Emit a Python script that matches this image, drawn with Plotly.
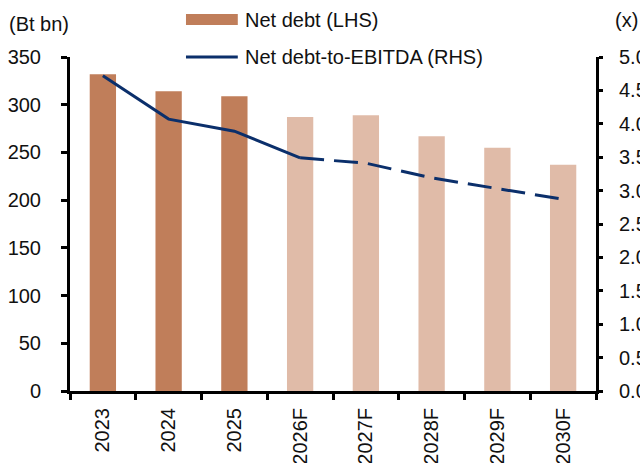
import plotly.graph_objects as go

categories = ["2023", "2024", "2025", "2026F", "2027F", "2028F", "2029F", "2030F"]
net_debt = [332, 314, 309, 287, 289, 267, 255, 237]
nd_ebitda = [4.72, 4.07, 3.89, 3.49, 3.41, 3.19, 3.03, 2.87]
is_forecast = [False, False, False, True, True, True, True, True]

ACT = "#c07e5a"
FC = "#e0bba8"
NAVY = "#0b2f6b"
FONT = "Liberation Sans, Arial, sans-serif"

bar_colors = [FC if f else ACT for f in is_forecast]
first_fc = is_forecast.index(True)

fig = go.Figure()
fig.add_trace(go.Bar(x=categories, y=net_debt, marker=dict(color=bar_colors, line=dict(width=0)),
                     showlegend=False, yaxis="y"))
fig.add_trace(go.Scatter(x=categories[:first_fc + 1], y=nd_ebitda[:first_fc + 1], mode="lines",
                         line=dict(color=NAVY, width=3), showlegend=False, yaxis="y2"))
fig.add_trace(go.Scatter(x=categories[first_fc:], y=nd_ebitda[first_fc:], mode="lines",
                         line=dict(color=NAVY, width=3, dash="24px,10px"), showlegend=False, yaxis="y2"))

fig.update_layout(
    width=640, height=463,
    margin=dict(l=70, r=44, t=57, b=72, autoexpand=False),
    paper_bgcolor="white", plot_bgcolor="white",
    font=dict(family=FONT, size=20, color="#111"),
    bargap=0.6,
    xaxis=dict(type="category", showline=True, linewidth=3, linecolor="black",
               ticks="outside", ticklen=6, tickwidth=3, tickcolor="black",
               tickson="boundaries", tickangle=-90, showgrid=False, zeroline=False,
               ticklabelstandoff=6),
    yaxis=dict(range=[0, 350], dtick=50, showline=True, linewidth=3, linecolor="black",
               ticks="outside", ticklen=6, tickwidth=3, tickcolor="black",
               showgrid=False, zeroline=False, ticklabelstandoff=16),
    yaxis2=dict(range=[0, 5], dtick=0.5, tickformat=".1f", overlaying="y", side="right",
                showline=True, linewidth=3, linecolor="black",
                ticks="outside", ticklen=4, tickwidth=3, tickcolor="black",
                showgrid=False, zeroline=False, ticklabelstandoff=12),
)

# Legend drawn manually
fig.add_shape(type="rect", xref="paper", yref="paper", x0=0.2205, x1=0.319, y0=1.0958, y1=1.1287,
              fillcolor=ACT, line=dict(width=0))
fig.add_shape(type="line", xref="paper", yref="paper", x0=0.2205, x1=0.319, y0=1.0, y1=1.0,
              line=dict(color=NAVY, width=3))
fig.add_annotation(xref="paper", yref="paper", x=0.3289, y=1.1108, text="Net debt (LHS)",
                   showarrow=False, xanchor="left", yanchor="middle")
fig.add_annotation(xref="paper", yref="paper", x=0.3289, y=1.0, text="Net debt-to-EBITDA (RHS)",
                   showarrow=False, xanchor="left", yanchor="middle")
fig.add_annotation(xref="paper", yref="paper", x=-0.12, y=1.1, text="(Bt bn)",
                   showarrow=False, xanchor="left", yanchor="middle")
fig.add_annotation(xref="paper", yref="paper", x=1.032, y=1.11, text="(x)",
                   showarrow=False, xanchor="left", yanchor="middle")

fig.write_html("out.html")
